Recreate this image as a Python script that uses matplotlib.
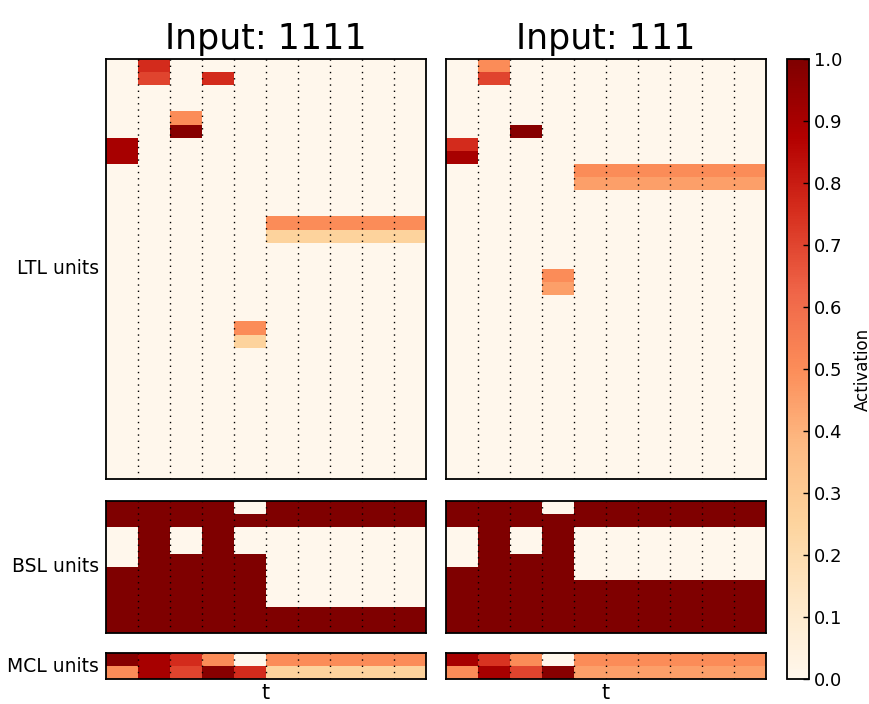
import numpy as np
import matplotlib
matplotlib.use("Agg")
import matplotlib.pyplot as plt

# time steps and unit counts
t_steps = 10
n_ltl = 32
n_bsl = 10
n_mcl = 2

inputs = ["1111", "111"]

# LTL activations: only the rows that light up (row index -> values over t)
ltl_1111_rows = {
    0: [0, 0.76, 0, 0, 0, 0, 0, 0, 0, 0],
    1: [0, 0.70, 0, 0.76, 0, 0, 0, 0, 0, 0],
    4: [0, 0, 0.50, 0, 0, 0, 0, 0, 0, 0],
    5: [0, 0, 0.98, 0, 0, 0, 0, 0, 0, 0],
    6: [0.90, 0, 0, 0, 0, 0, 0, 0, 0, 0],
    7: [0.90, 0, 0, 0, 0, 0, 0, 0, 0, 0],
    12: [0, 0, 0, 0, 0, 0.50, 0.50, 0.50, 0.50, 0.50],
    13: [0, 0, 0, 0, 0, 0.25, 0.25, 0.25, 0.25, 0.25],
    20: [0, 0, 0, 0, 0.50, 0, 0, 0, 0, 0],
    21: [0, 0, 0, 0, 0.25, 0, 0, 0, 0, 0],
}
ltl_111_rows = {
    0: [0, 0.50, 0, 0, 0, 0, 0, 0, 0, 0],
    1: [0, 0.70, 0, 0, 0, 0, 0, 0, 0, 0],
    5: [0, 0, 0.98, 0, 0, 0, 0, 0, 0, 0],
    6: [0.76, 0, 0, 0, 0, 0, 0, 0, 0, 0],
    7: [0.90, 0, 0, 0, 0, 0, 0, 0, 0, 0],
    8: [0, 0, 0, 0, 0.50, 0.50, 0.50, 0.50, 0.50, 0.50],
    9: [0, 0, 0, 0, 0.45, 0.45, 0.45, 0.45, 0.45, 0.45],
    16: [0, 0, 0, 0.50, 0, 0, 0, 0, 0, 0],
    17: [0, 0, 0, 0.45, 0, 0, 0, 0, 0, 0],
}

# BSL activations (rows x t)
bsl_1111 = [
    [1, 1, 1, 1, 0, 1, 1, 1, 1, 1],
    [1, 1, 1, 1, 1, 1, 1, 1, 1, 1],
    [0, 1, 0, 1, 0, 0, 0, 0, 0, 0],
    [0, 1, 0, 1, 0, 0, 0, 0, 0, 0],
    [0, 1, 1, 1, 1, 0, 0, 0, 0, 0],
    [1, 1, 1, 1, 1, 0, 0, 0, 0, 0],
    [1, 1, 1, 1, 1, 0, 0, 0, 0, 0],
    [1, 1, 1, 1, 1, 0, 0, 0, 0, 0],
    [1, 1, 1, 1, 1, 1, 1, 1, 1, 1],
    [1, 1, 1, 1, 1, 1, 1, 1, 1, 1],
]
bsl_111 = [
    [1, 1, 1, 0, 1, 1, 1, 1, 1, 1],
    [1, 1, 1, 1, 1, 1, 1, 1, 1, 1],
    [0, 1, 0, 1, 0, 0, 0, 0, 0, 0],
    [0, 1, 0, 1, 0, 0, 0, 0, 0, 0],
    [0, 1, 1, 1, 0, 0, 0, 0, 0, 0],
    [1, 1, 1, 1, 0, 0, 0, 0, 0, 0],
    [1, 1, 1, 1, 1, 1, 1, 1, 1, 1],
    [1, 1, 1, 1, 1, 1, 1, 1, 1, 1],
    [1, 1, 1, 1, 1, 1, 1, 1, 1, 1],
    [1, 1, 1, 1, 1, 1, 1, 1, 1, 1],
]

# MCL activations
mcl_1111 = [
    [0.98, 0.90, 0.76, 0.50, 0.0, 0.50, 0.50, 0.50, 0.50, 0.50],
    [0.50, 0.90, 0.70, 0.98, 0.76, 0.25, 0.25, 0.25, 0.25, 0.25],
]
mcl_111 = [
    [0.90, 0.74, 0.50, 0.0, 0.50, 0.50, 0.50, 0.50, 0.50, 0.50],
    [0.50, 0.90, 0.70, 0.98, 0.45, 0.45, 0.45, 0.45, 0.45, 0.45],
]


def ltl_matrix(rows):
    m = np.zeros((n_ltl, t_steps))
    for r, vals in rows.items():
        m[r] = vals
    return m


data = {
    "1111": [ltl_matrix(ltl_1111_rows), np.array(bsl_1111), np.array(mcl_1111)],
    "111": [ltl_matrix(ltl_111_rows), np.array(bsl_111), np.array(mcl_111)],
}
row_labels = ["LTL units", "BSL units", "MCL units"]

W, H = 870, 704
fig = plt.figure(figsize=(W / 100, H / 100), dpi=100)


def frac(x0, y0, x1, y1):
    return [x0 / W, 1 - y1 / H, (x1 - x0) / W, (y1 - y0) / H]


col_x = [(106, 426), (446, 766)]
row_y = [(59, 479), (501, 633), (653, 679)]

cmap = plt.get_cmap("OrRd")
im = None
for ci, name in enumerate(inputs):
    for ri in range(3):
        ax = fig.add_axes(frac(col_x[ci][0], row_y[ri][0], col_x[ci][1], row_y[ri][1]))
        im = ax.imshow(data[name][ri], cmap=cmap, vmin=0, vmax=1,
                       aspect="auto", interpolation="nearest")
        for b in np.arange(0.5, t_steps - 1, 1.0):
            ax.axvline(b, color="black", linestyle=(0, (1, 3.5)), lw=1)
        ax.set_xticks([])
        ax.set_yticks([])
        for s in ax.spines.values():
            s.set_linewidth(1.3)
        if ri == 0:
            ax.set_title("Input: " + name, fontsize=25, pad=7)
        if ri == 2:
            ax.set_xlabel("t", fontsize=15, labelpad=3)
        if ci == 0:
            ax.set_ylabel(row_labels[ri], rotation=0, ha="right", va="center",
                          fontsize=13.5, labelpad=5)

cax = fig.add_axes(frac(787, 59, 809, 679))
cb = fig.colorbar(im, cax=cax, ticks=np.linspace(0, 1, 11))
cb.ax.set_yticklabels(["%.1f" % v for v in np.linspace(0, 1, 11)])
cb.ax.tick_params(direction="in", length=4, labelsize=13, width=1)
cb.outline.set_linewidth(1.3)
cb.set_label("Activation", fontsize=12, labelpad=8)

fig.savefig("out.png", dpi=100)
